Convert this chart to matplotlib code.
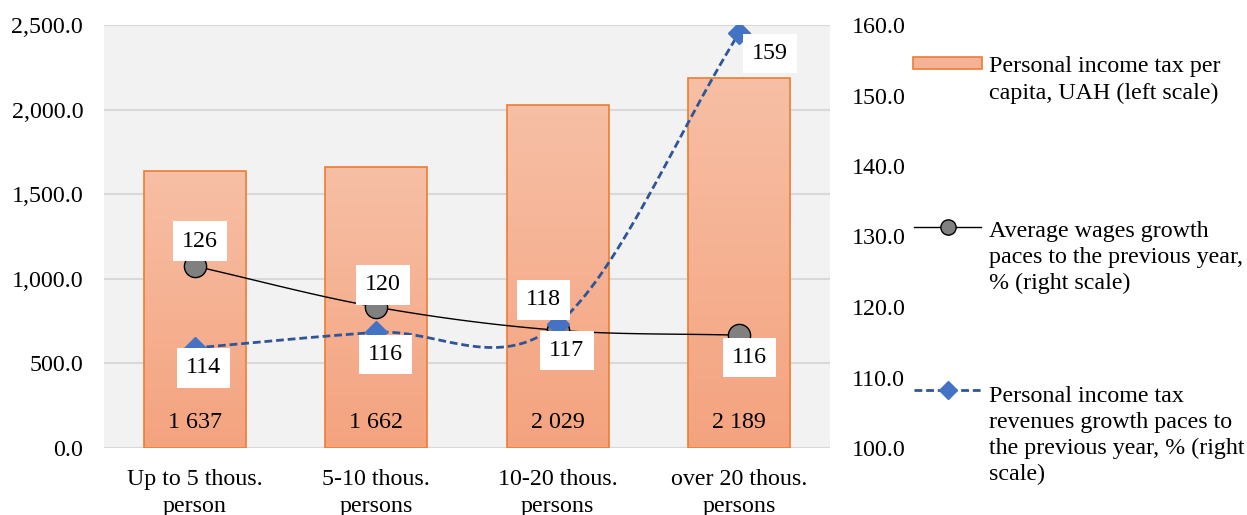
import matplotlib
matplotlib.use("Agg")
import matplotlib.pyplot as plt
import numpy as np
from matplotlib.lines import Line2D
from matplotlib.patches import Rectangle
from matplotlib.colors import LinearSegmentedColormap

plt.rcParams['font.family'] = ['Liberation Serif', 'DejaVu Serif']
plt.rcParams['font.size'] = 17.3

categories = ["Up to 5 thous.\nperson", "5-10 thous.\npersons",
              "10-20 thous.\npersons", "over 20 thous.\npersons"]
tax_per_capita = [1637, 1662, 2029, 2189]
wages_growth = [125.8, 120.0, 116.7, 116.0]
tax_growth = [114.2, 116.4, 117.6, 158.9]

bar_labels = ["1 637", "1 662", "2 029", "2 189"]
leg_bar = "Personal income tax per\ncapita, UAH (left scale)"
leg_wage = "Average wages growth\npaces to the previous year,\n% (right scale)"
leg_tax = "Personal income tax\nrevenues growth paces to\nthe previous year, % (right\nscale)"

LS = 1.31  # line pitch ~27.5 px


def smooth(xs, ys, n=40):
    # catmull-rom, like excel's smoothed line
    xs = np.asarray(xs, float)
    ys = np.asarray(ys, float)
    px = np.concatenate([[2 * xs[0] - xs[1]], xs, [2 * xs[-1] - xs[-2]]])
    py = np.concatenate([[2 * ys[0] - ys[1]], ys, [2 * ys[-1] - ys[-2]]])
    outx, outy = [], []
    t = np.linspace(0, 1, n)
    for i in range(1, len(px) - 2):
        for p, out in ((px, outx), (py, outy)):
            m1 = (p[i + 1] - p[i - 1]) / 2
            m2 = (p[i + 2] - p[i]) / 2
            h00 = 2 * t**3 - 3 * t**2 + 1
            h10 = t**3 - 2 * t**2 + t
            h01 = -2 * t**3 + 3 * t**2
            h11 = t**3 - t**2
            out.extend(h00 * p[i] + h10 * m1 + h01 * p[i + 1] + h11 * m2)
    return np.array(outx), np.array(outy)


fig = plt.figure(figsize=(12.47, 5.15), dpi=100)
ax = fig.add_axes([104 / 1247, 1 - 448 / 515, 726 / 1247, 423 / 515])
ax.set_facecolor('#f2f2f2')

x = np.arange(len(categories))
bars = ax.bar(x, tax_per_capita, width=0.56, facecolor='none',
              edgecolor='#ed7d31', linewidth=1.2, zorder=3)
cmap = LinearSegmentedColormap.from_list('g', ['#f4a37f', '#f7bfa5'])
grad = np.linspace(0, 1, 256).reshape(-1, 1)
for b in bars:
    im = ax.imshow(grad, cmap=cmap, origin='lower', aspect='auto', zorder=2,
                   extent=[b.get_x(), b.get_x() + b.get_width(), 0, b.get_height()])
    im.set_clip_path(b)

for xi, lab in zip(x, bar_labels):
    ax.annotate(lab, (xi, 0), xytext=(0, 25), textcoords='offset pixels',
                ha='center', va='center', zorder=5)

ax.set_xlim(-0.5, 3.5)
ax.set_ylim(0, 2500)
ax.set_yticks(np.arange(0, 2501, 500))
ax.yaxis.set_major_formatter(matplotlib.ticker.StrMethodFormatter('{x:,.1f}'))
ax.set_xticks(x)
ax.set_xticklabels(categories)
for t in ax.get_xticklabels():
    t.set_linespacing(1.37)
ax.tick_params(axis='x', length=0, pad=15)
ax.tick_params(axis='y', length=0, pad=15)
ax.grid(axis='y', color='#d9d9d9', linewidth=1.5, zorder=1)
ax.set_axisbelow(True)
for s in ax.spines.values():
    s.set_visible(False)

ax2 = ax.twinx()
ax2.set_ylim(100, 160)
ax2.set_yticks(np.arange(100, 161, 10))
ax2.yaxis.set_major_formatter(matplotlib.ticker.StrMethodFormatter('{x:.1f}'))
ax2.tick_params(axis='y', length=0, pad=16)
for s in ax2.spines.values():
    s.set_visible(False)

sx, sy = smooth(x, wages_growth)
ax2.plot(sx, sy, color='black', linewidth=1.0, zorder=3)
ax2.plot(x, wages_growth, 'o', color='#808080', markeredgecolor='black',
         markersize=16, markeredgewidth=1.0, zorder=4)
sx, sy = smooth(x, tax_growth)
ax2.plot(sx, sy, color='#2f5597', linewidth=2.0, dashes=(2.8, 1.4), zorder=3)
ax2.plot(x, tax_growth, 'D', color='#4472c4', markersize=11, zorder=4)

box = dict(boxstyle='square,pad=0.38', facecolor='white', edgecolor='none')
wage_offsets = [(5, 25), (7, 22), (9, -20), (10, -22)]
tax_offsets = [(9, -20), (9, -22), (-14, 24), (31, -21)]
for xi, v, off in zip(x, wages_growth, wage_offsets):
    ax2.annotate(f"{v:.0f}", (xi, v), xytext=off, textcoords='offset pixels',
                 ha='center', va='center', bbox=box, zorder=6)
for xi, v, off in zip(x, tax_growth, tax_offsets):
    ax2.annotate(f"{v:.0f}", (xi, v), xytext=off, textcoords='offset pixels',
                 ha='center', va='center', bbox=box, zorder=6)

# legend drawn by hand so the handles sit on the first text line
W, H = 1247, 515
fig.patches.append(Rectangle((913 / W, 1 - 69 / H), 69 / W, 12 / H,
                             transform=fig.transFigure, facecolor='#f5b296',
                             edgecolor='#ed7d31', linewidth=1.2))
fig.lines.append(Line2D([914 / W, 981 / W], [1 - 227 / H] * 2, transform=fig.transFigure,
                        color='black', linewidth=1.0))
fig.lines.append(Line2D([947.5 / W], [1 - 227 / H], transform=fig.transFigure, marker='o',
                        color='#808080', markeredgecolor='black', markersize=11))
fig.lines.append(Line2D([914 / W, 981 / W], [1 - 390 / H] * 2, transform=fig.transFigure,
                        color='#2f5597', linewidth=2.0, dashes=(2.8, 1.4)))
fig.lines.append(Line2D([947.5 / W], [1 - 390 / H], transform=fig.transFigure, marker='D',
                        color='#4472c4', markersize=9))
for txt, base in ((leg_bar, 71), (leg_wage, 234), (leg_tax, 398)):
    nl = txt.count('\n')
    fig.text(989 / W, 1 - (base + nl * 27.5) / H, txt, ha='left', va='baseline',
             linespacing=LS)

fig.savefig('out.png', dpi=100)
